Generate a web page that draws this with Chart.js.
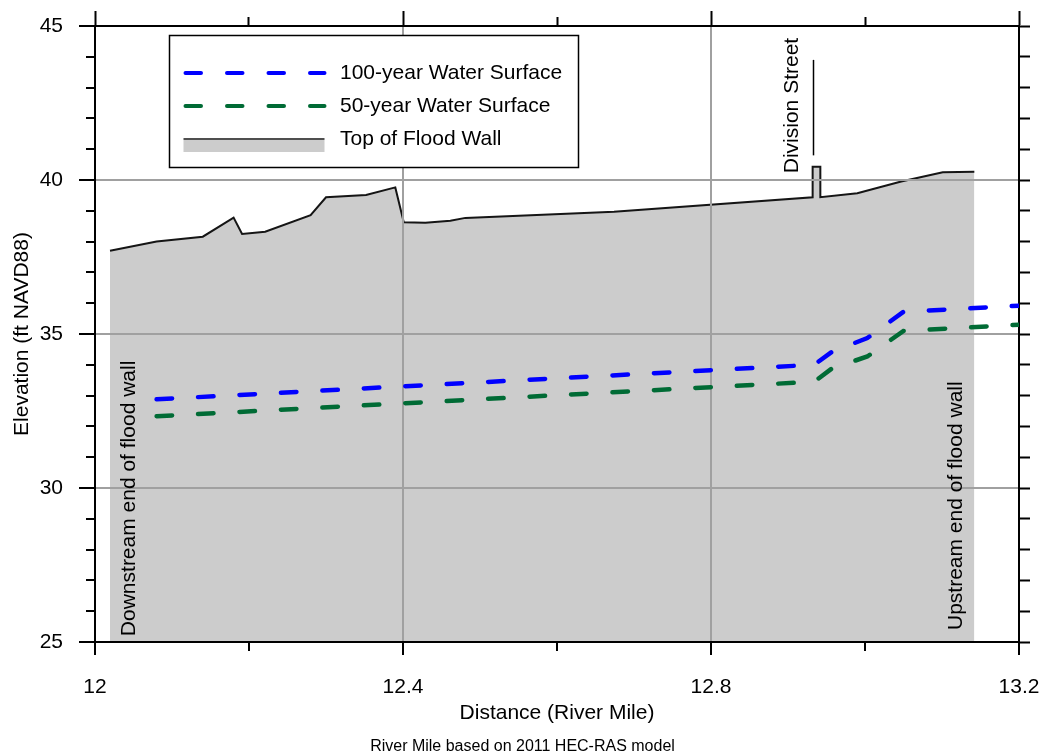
<!DOCTYPE html>
<html>
<head>
<meta charset="utf-8">
<script src="https://cdn.jsdelivr.net/npm/chart.js@4.4.1/dist/chart.umd.min.js"></script>
<style>
  html, body { margin: 0; padding: 0; background: #fff; }
</style>
</head>
<body>
<canvas id="chart" width="1045" height="756"></canvas>
<script>
// Top of flood wall profile (river mile / elevation ft NAVD88)
const wallMile = [12.0195, 12.080, 12.140, 12.180, 12.191, 12.221, 12.280, 12.300, 12.352, 12.390, 12.401,
                  12.429, 12.4615, 12.481, 12.674, 12.932, 12.932, 12.942, 12.942, 12.990, 13.047, 13.101, 13.142];
const wallElev = [37.70, 38.00, 38.16, 38.78, 38.25, 38.32, 38.86, 39.44, 39.51, 39.76, 38.63,
                  38.61, 38.68, 38.77, 38.97, 39.44, 40.43, 40.43, 39.44, 39.57, 39.95, 40.25, 40.27];

// Water surface profiles
const wsMile = [12.08, 12.934, 12.957, 13.003, 13.05, 13.2];
const ws100 = [32.88, 34.00, 34.42, 34.87, 35.72, 35.92];
const ws50 = [32.33, 33.45, 33.88, 34.27, 35.10, 35.30];

// tick labels shown on the axes
const xLabels = ['12', '12.4', '12.8', '13.2'];
const yLabels = ['25', '30', '35', '40', '45'];

// rotated notes, anchored at the start of the text
const noteText = ['Division Street', 'Downstream end of flood wall', 'Upstream end of flood wall'];
const noteMile = [12.906, 12.0447, 13.118];
const noteElev = [40.22, 25.19, 25.39];
// Division Street marker
const markMile = 12.932;
const markElev = [40.8, 43.9];

const font = '"Liberation Sans", Arial, sans-serif';
Chart.defaults.font.family = font;
Chart.defaults.font.size = 21;
Chart.defaults.color = '#000';

const gridGray = '#a0a0a0';
const clear = 'rgba(0,0,0,0)';
const fmt = v => String(Math.round(v * 10) / 10);
const isMajorX = v => xLabels.includes(fmt(v));
const isMajorY = v => yLabels.includes(fmt(v));

function toPoints(xs, ys) {
    return xs.map((x, i) => ({ x: x, y: ys[i] }));
}

// fixed box sizes so the plot area lands where the original one is
function fixBox(size) {
    return s => {
        if (s.isHorizontal()) s.height = size; else s.width = size;
        s.paddingLeft = s.paddingRight = s.paddingTop = s.paddingBottom = 0;
    };
}

// redraw grid + axis lines over the grey wall fill, before the water lines
const gridOverFill = {
    id: 'gridOverFill',
    afterDatasetDraw(chart, args) {
        if (args.index !== 0) return;
        const area = chart.chartArea;
        chart.scales.x.drawGrid(area);
        chart.scales.y.drawGrid(area);
        ['x', 'y', 'x2', 'y2'].forEach(id => {
            const s = chart.scales[id];
            if (s.drawBorder) s.drawBorder();
        });
    }
};

const notes = {
    id: 'notes',
    afterDatasetsDraw(chart) {
        const { ctx, scales: { x, y } } = chart;
        ctx.save();
        ctx.fillStyle = '#000';
        ctx.font = '21px ' + font;
        ctx.textAlign = 'left';
        ctx.textBaseline = 'middle';
        noteText.forEach((t, i) => {
            ctx.save();
            ctx.translate(x.getPixelForValue(noteMile[i]), y.getPixelForValue(noteElev[i]));
            ctx.rotate(-Math.PI / 2);
            ctx.fillText(t, 0, 0);
            ctx.restore();
        });
        // marker line under the Division Street label
        const mx = Math.round(x.getPixelForValue(markMile)) + 0.5;
        ctx.strokeStyle = '#000';
        ctx.lineWidth = 1.5;
        ctx.beginPath();
        ctx.moveTo(mx, y.getPixelForValue(markElev[0]));
        ctx.lineTo(mx, y.getPixelForValue(markElev[1]));
        ctx.stroke();
        ctx.restore();
    }
};

const legendBox = {
    id: 'legendBox',
    afterDraw(chart) {
        const { ctx, chartArea: a } = chart;
        const left = a.left + 74.5, top = a.top + 9.5, w = 409, h = 132;
        ctx.save();
        ctx.fillStyle = '#fff';
        ctx.fillRect(left, top, w, h);
        ctx.strokeStyle = '#000';
        ctx.lineWidth = 1.5;
        ctx.strokeRect(left, top, w, h);
        const x0 = left + 14, x1 = left + 155;
        [1, 2, 0].forEach((di, row) => {
            const ds = chart.data.datasets[di];
            const yy = top + 37.5 + row * 33;
            if (di === 0) {
                ctx.fillStyle = ds.backgroundColor;
                ctx.fillRect(x0, yy + 1, x1 - x0, 12);
                ctx.strokeStyle = ds.borderColor;
                ctx.lineWidth = 1.5;
                ctx.setLineDash([]);
                ctx.beginPath();
                ctx.moveTo(x0, yy);
                ctx.lineTo(x1, yy);
                ctx.stroke();
            } else {
                ctx.strokeStyle = ds.borderColor;
                ctx.lineWidth = 4;
                ctx.lineCap = 'round';
                ctx.setLineDash([15.5, 26]);
                ctx.beginPath();
                ctx.moveTo(x0 + 2, yy);
                ctx.lineTo(x1, yy);
                ctx.stroke();
                ctx.setLineDash([]);
                ctx.lineCap = 'butt';
            }
            ctx.fillStyle = '#000';
            ctx.font = '21px ' + font;
            ctx.textAlign = 'left';
            ctx.textBaseline = 'middle';
            ctx.fillText(ds.label, left + 170.5, yy);
        });
        ctx.restore();
    }
};

new Chart(document.getElementById('chart'), {
    type: 'line',
    data: {
        datasets: [
            {
                label: 'Top of Flood Wall',
                data: toPoints(wallMile, wallElev),
                borderColor: '#151515',
                borderWidth: 2,
                backgroundColor: '#cccccc',
                fill: 'start',
                pointRadius: 0,
                order: 3
            },
            {
                label: '100-year Water Surface',
                data: toPoints(wsMile, ws100),
                borderColor: '#0000ff',
                borderWidth: 4.5,
                borderDash: [15.5, 26],
                borderCapStyle: 'round',
                fill: false,
                pointRadius: 0,
                order: 1
            },
            {
                label: '50-year Water Surface',
                data: toPoints(wsMile, ws50),
                borderColor: '#006b35',
                borderWidth: 4.5,
                borderDash: [15.5, 26],
                borderCapStyle: 'round',
                fill: false,
                pointRadius: 0,
                order: 2
            }
        ]
    },
    options: {
        responsive: false,
        animation: false,
        devicePixelRatio: 1,
        layout: { padding: 0 },
        plugins: {
            legend: { display: false },
            tooltip: { enabled: false },
            title: {
                display: true,
                position: 'bottom',
                text: 'River Mile based on 2011 HEC-RAS model',
                color: '#000',
                font: { size: 16, weight: 'normal' },
                padding: { top: 0, bottom: 0 }
            }
        },
        scales: {
            x: {
                type: 'linear', axis: 'x', position: 'bottom',
                min: 12, max: 13.2,
                ticks: {
                    stepSize: 0.2, autoSkip: false, maxRotation: 0, minRotation: 0, padding: 20,
                    callback: v => isMajorX(v) ? fmt(v) : ''
                },
                grid: {
                    lineWidth: 2,
                    color: c => (c.tick && isMajorX(c.tick.value) && c.tick.value > 12 && c.tick.value < 13.2) ? gridGray : clear,
                    tickLength: 13, tickWidth: 2, tickColor: '#000',
                    tickBorderDash: c => (c.tick && isMajorX(c.tick.value)) ? [] : [8, 100]
                },
                border: { color: '#000', width: 2 },
                title: { display: true, text: 'Distance (River Mile)', padding: { top: 0, bottom: 11 } },
                afterFit: fixBox(94.8)
            },
            x2: {
                type: 'linear', axis: 'x', position: 'top',
                min: 12, max: 13.2,
                ticks: { display: false, stepSize: 0.2, autoSkip: false },
                grid: {
                    drawOnChartArea: false,
                    tickLength: 15, tickWidth: 2, tickColor: '#000',
                    tickBorderDash: c => (c.tick && isMajorX(c.tick.value)) ? [] : [0, 6, 9, 100]
                },
                border: { color: '#000', width: 2 },
                afterFit: fixBox(26)
            },
            y: {
                type: 'linear', axis: 'y', position: 'left',
                min: 25, max: 45,
                ticks: {
                    stepSize: 1, autoSkip: false, padding: 16,
                    callback: v => isMajorY(v) ? fmt(v) : ''
                },
                grid: {
                    lineWidth: 2,
                    color: c => (c.tick && isMajorY(c.tick.value) && c.tick.value > 25 && c.tick.value < 45) ? gridGray : clear,
                    tickLength: 16, tickWidth: 2, tickColor: '#000',
                    tickBorderDash: c => (c.tick && isMajorY(c.tick.value)) ? [] : [0, 7, 9, 100]
                },
                border: { color: '#000', width: 2 },
                title: { display: true, text: 'Elevation (ft NAVD88)', padding: { top: 10, bottom: 0 } },
                afterFit: fixBox(95)
            },
            y2: {
                type: 'linear', axis: 'y', position: 'right',
                min: 25, max: 45,
                ticks: { display: false, stepSize: 1, autoSkip: false },
                grid: { drawOnChartArea: false, tickLength: 11, tickWidth: 2, tickColor: '#000' },
                border: { color: '#000', width: 2 },
                afterFit: fixBox(26)
            }
        }
    },
    plugins: [gridOverFill, notes, legendBox]
});
</script>
</body>
</html>
